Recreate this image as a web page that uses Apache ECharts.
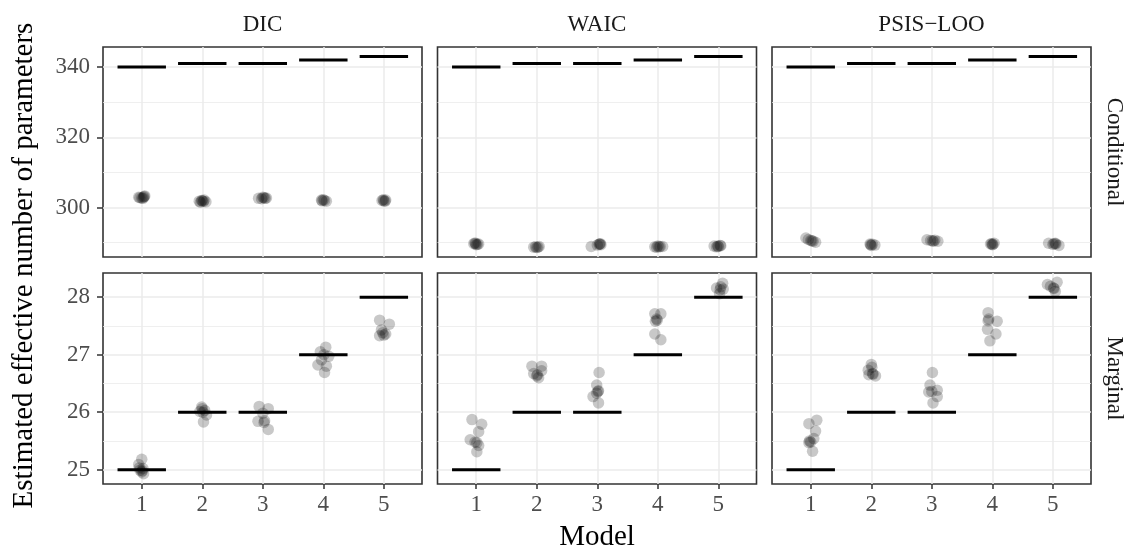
<!DOCTYPE html>
<html><head><meta charset="utf-8">
<script src="https://cdn.jsdelivr.net/npm/echarts@6/dist/echarts.min.js"></script>
<style>html,body{margin:0;padding:0;background:#fff}#c{width:1125px;height:548px}</style>
</head><body><div id="c"></div>
<script>
// ---------- data ----------
const models = [1, 2, 3, 4, 5];
const criteria = ['DIC', 'WAIC', 'PSIS\u2212LOO'];
const rowNames = ['Conditional', 'Marginal'];
const trueConditional = [340, 341, 341, 342, 343];
const trueMarginal = [25, 26, 26, 27, 28];
const yTicksConditional = [300, 320, 340];
const yMinorConditional = [290, 310, 330];
const yTicksMarginal = [25, 26, 27, 28];
const yMinorMarginal = [25.5, 26.5, 27.5];
const yRangeConditional = [285.9, 345.7];
const yRangeMarginal = [24.75, 28.42];
const xRange = [0.36, 5.63];

// estimates (model position with jitter, estimated value)
const dicConditional = [
  [0.97,302.8],[1.04,303.1],[1.02,302.6],[0.95,302.9],[1.05,303.3],[1.0,302.7],[1.03,302.9],
  [1.95,301.8],[2.06,301.6],[2.0,301.9],[2.03,302.1],[1.97,301.5],[2.02,301.7],[1.99,302.0],
  [2.93,302.6],[3.0,302.9],[3.06,302.7],[2.98,302.5],[3.02,302.8],[3.04,302.6],
  [3.97,302.1],[4.05,301.8],[4.0,302.2],[3.98,301.9],[4.02,302.0],
  [4.97,302.0],[5.03,302.1],[5.0,301.9],[4.99,302.2],[5.02,301.8]
];
const waicConditional = [
  [0.96,289.7],[1.04,289.6],[1.0,289.4],[0.98,289.9],[1.02,289.5],[0.99,289.7],
  [1.95,288.7],[2.04,288.9],[2.0,288.6],[1.98,288.8],[2.02,288.7],
  [2.9,288.9],[3.04,289.6],[3.06,289.4],[3.0,289.3],[3.03,289.5],[3.05,289.7],
  [3.95,288.8],[4.04,288.9],[4.0,289.0],[4.08,288.9],[3.98,288.7],[4.02,288.8],
  [4.93,289.0],[5.03,289.2],[5.0,288.9],[4.97,288.8],[5.04,289.1],[4.99,289.0]
];
const psisConditional = [
  [0.92,291.3],[1.0,290.6],[1.08,290.1],[0.96,290.9],[1.02,290.5],[1.04,290.4],
  [1.98,289.6],[2.06,289.3],[2.0,289.2],[2.02,289.5],[1.99,289.4],
  [2.92,290.8],[3.03,290.4],[3.1,290.4],[2.98,290.6],[3.01,290.5],[3.05,290.7],
  [3.97,289.6],[4.0,289.4],[4.03,289.8],[3.99,289.7],[4.01,289.5],
  [4.93,289.8],[5.04,289.8],[5.1,289.2],[5.0,289.5],[5.02,289.7],[5.05,289.6]
];
const dicMarginal = [
  [1.0,25.18],[0.95,25.09],[1.02,25.02],[0.97,24.99],[1.03,24.93],[1.0,24.96],[0.96,25.03],[1.01,24.98],
  [2.0,26.06],[2.07,25.95],[2.02,25.83],[1.96,26.01],[2.04,26.03],[1.99,26.09],[2.01,26.0],
  [2.94,26.10],[3.09,26.06],[2.92,25.84],[3.02,25.82],[3.09,25.70],[3.0,25.98],[3.03,25.85],
  [4.04,27.13],[3.95,27.05],[4.09,26.97],[3.91,26.82],[4.05,26.80],[4.02,26.69],[3.97,26.91],[4.01,27.0],
  [4.93,27.60],[5.09,27.53],[4.96,27.43],[5.0,27.34],[4.93,27.33],[5.03,27.36],[4.98,27.38]
];
const waicMarginal = [
  [0.93,25.87],[1.09,25.79],[1.04,25.66],[0.9,25.52],[1.01,25.47],[1.01,25.31],[0.98,25.48],[1.04,25.42],
  [1.92,26.80],[2.08,26.80],[1.95,26.67],[2.08,26.72],[2.0,26.63],[2.03,26.60],[2.01,26.65],
  [3.03,26.69],[2.99,26.47],[3.02,26.37],[2.93,26.27],[3.02,26.16],[2.99,26.33],[3.01,26.36],
  [3.95,27.71],[4.05,27.71],[3.96,27.58],[3.99,27.60],[3.95,27.36],[4.05,27.26],[3.98,27.62],
  [5.07,28.24],[4.97,28.16],[5.03,28.13],[5.02,28.06],[5.08,28.14],[5.04,28.18]
];
const psisMarginal = [
  [1.1,25.86],[0.97,25.80],[1.08,25.67],[1.05,25.54],[0.97,25.47],[1.03,25.32],[1.0,25.48],[0.98,25.5],
  [2.0,26.83],[1.95,26.73],[2.07,26.63],[1.96,26.65],[2.02,26.67],[2.01,26.78],[2.03,26.66],
  [3.01,26.69],[2.97,26.47],[3.09,26.38],[2.95,26.35],[3.09,26.27],[3.02,26.16],[3.0,26.36],
  [3.93,27.73],[3.93,27.59],[4.08,27.58],[3.92,27.44],[4.06,27.36],[3.96,27.24],[3.94,27.62],
  [5.07,28.26],[4.91,28.22],[5.01,28.16],[5.04,28.10],[4.96,28.19],[5.02,28.15]
];

// ---------- layout ----------
const FONT = '"Liberation Serif", "DejaVu Serif", serif';
const panelLeft = [103, 437.5, 772];
const panelWidth = 319;
const panelTop = [47, 273];
const panelHeight = [210, 211];

const estimates = [
  [dicConditional, waicConditional, psisConditional],
  [dicMarginal, waicMarginal, psisMarginal]
];
const truths = [trueConditional, trueMarginal];
const yTicks = [yTicksConditional, yTicksMarginal];
const yMinor = [yMinorConditional, yMinorMarginal];
const yRange = [yRangeConditional, yRangeMarginal];

const grid = [], xAxis = [], yAxis = [], series = [];
let g = 0;
for (let r = 0; r < 2; r++) {
  for (let c = 0; c < 3; c++) {
    grid.push({
      left: panelLeft[c], top: panelTop[r], width: panelWidth, height: panelHeight[r],
      show: true, borderColor: '#333333', borderWidth: 1.6, backgroundColor: '#ffffff'
    });
    xAxis.push({
      type: 'value', gridIndex: g, min: xRange[0], max: xRange[1],
      axisLine: { show: false },
      axisTick: { show: r === 1, customValues: models, length: 5, lineStyle: { color: '#333333', width: 1.5 } },
      axisLabel: { show: r === 1, customValues: models, margin: 9, fontSize: 23, color: '#4d4d4d', fontFamily: FONT },
      splitLine: { show: true, lineStyle: { color: '#ebebeb', width: 1.5 } }
    });
    yAxis.push({
      type: 'value', gridIndex: g, min: yRange[r][0], max: yRange[r][1],
      axisLine: { show: false },
      axisTick: { show: c === 0, customValues: yTicks[r], length: 6, lineStyle: { color: '#333333', width: 1.5 } },
      axisLabel: { show: c === 0, customValues: yTicks[r], margin: 13, fontSize: 23, color: '#4d4d4d', fontFamily: FONT },
      splitLine: { show: true, lineStyle: { color: '#ebebeb', width: 1.5 } }
    });
    yAxis.push({
      type: 'value', gridIndex: g, min: yRange[r][0], max: yRange[r][1], position: 'left',
      axisLine: { show: false },
      axisTick: { show: false, customValues: yMinor[r] },
      axisLabel: { show: false, customValues: yMinor[r] },
      splitLine: { show: true, lineStyle: { color: '#ebebeb', width: 0.8 } }
    });
    series.push({
      type: 'custom', xAxisIndex: g, yAxisIndex: 2 * g, z: 3,
      data: models.map((m, i) => [m, truths[r][i]]),
      encode: { x: 0, y: 1 },
      renderItem: function (params, api) {
        const x = api.value(0), y = api.value(1);
        const p1 = api.coord([x - 0.4, y]);
        const p2 = api.coord([x + 0.4, y]);
        return { type: 'line', shape: { x1: p1[0], y1: p1[1], x2: p2[0], y2: p2[1] },
                 style: { stroke: '#000000', lineWidth: 3 } };
      }
    });
    series.push({
      type: 'scatter', xAxisIndex: g, yAxisIndex: 2 * g, z: 4,
      data: estimates[r][c], symbolSize: 11.5,
      itemStyle: { color: 'rgba(0,0,0,0.27)', borderWidth: 0 }
    });
    g++;
  }
}

const graphic = [];
criteria.forEach((name, c) => {
  graphic.push({ type: 'text', x: panelLeft[c] + panelWidth / 2, y: 24.5,
    style: { text: name, fontSize: 23, fontFamily: FONT, fill: '#1a1a1a', align: 'center', verticalAlign: 'middle' } });
});
rowNames.forEach((name, r) => {
  graphic.push({ type: 'text', x: 1114, y: panelTop[r] + panelHeight[r] / 2, rotation: -Math.PI / 2,
    style: { text: name, fontSize: 23, fontFamily: FONT, fill: '#1a1a1a', align: 'center', verticalAlign: 'middle' } });
});
graphic.push({ type: 'text', x: 24, y: (panelTop[0] + panelTop[1] + panelHeight[1]) / 2, rotation: Math.PI / 2,
  style: { text: 'Estimated effective number of parameters', fontSize: 29, fontFamily: FONT, fill: '#000', align: 'center', verticalAlign: 'middle' } });
graphic.push({ type: 'text', x: (panelLeft[0] + panelLeft[2] + panelWidth) / 2, y: 537,
  style: { text: 'Model', fontSize: 29, fontFamily: FONT, fill: '#000', align: 'center', verticalAlign: 'middle' } });

const chart = echarts.init(document.getElementById('c'), null, { renderer: 'canvas' });
chart.setOption({ animation: false, backgroundColor: '#ffffff', grid, xAxis, yAxis, series, graphic });
</script></body></html>
